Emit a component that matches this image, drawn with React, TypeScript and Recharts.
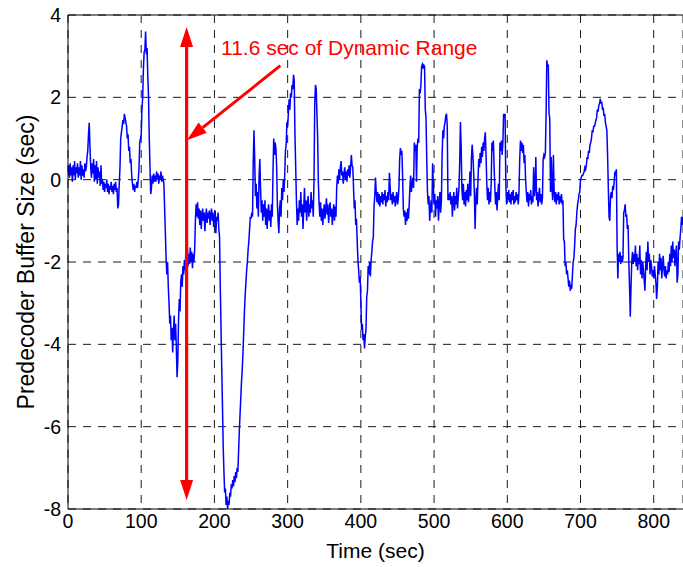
import { LineChart, Line, XAxis, YAxis, CartesianGrid, ReferenceLine, ReferenceDot } from 'recharts';

// buffer size (sec), sampled once a second, one array per 100 s block
const block0 = [
    0.1, 0.35, 0.05, 0.4, 0.1, 0.3, -0.05, 0.35, 0.1, 0.45,
    0.0, 0.3, 0.15, 0.4, 0.05, 0.3, 0.1, 0.45, 0.0, 0.35,
    0.1, 0.25, 0.05, 0.4, 0.2, 0.3, 0.55, 0.7, 1.1, 1.38,
    0.8, 0.3, 0.05, 0.4, 0.15, 0.5, -0.05, 0.35, 0.0, 0.45,
    -0.1, 0.3, 0.05, 0.2, -0.15, 0.35, -0.1, 0.0, -0.25, -0.05,
    -0.3, -0.1, -0.2, 0.0, -0.3, -0.1, -0.35, -0.15, -0.25, -0.05,
    -0.3, -0.15, -0.35, -0.1, -0.25, -0.05, -0.3, -0.2, -0.7, -0.6,
    -0.1, 0.3, 1.0, 1.15, 1.3, 1.45, 1.35, 1.6, 1.5, 1.4,
    1.3, 1.0, 1.1, 0.7, 0.8, 0.4, 0.5, 0.1, -0.1, -0.25,
    -0.1, -0.3, -0.15, -0.2, -0.05, -0.2, 0.0, 0.3, 0.9, 1.0,
];
const block1 = [
    1.1, 1.7, 2.0, 2.7, 3.1, 3.15, 3.6, 3.05, 3.2, 2.5,
    2.0, 1.0, 0.3, -0.35, -0.2, 0.1, -0.1, 0.15, -0.05, 0.1,
    -0.05, 0.2, 0.0, 0.15, -0.1, 0.1, 0.0, 0.2, -0.05, 0.1,
    0.0, -0.1, -0.7, -1.3, -1.9, -2.3, -2.0, -2.6, -3.0, -3.5,
    -3.3, -3.9, -3.6, -4.2, -3.7, -3.3, -3.9, -3.5, -4.1, -4.8,
    -4.4, -3.4, -2.9, -3.2, -2.5, -2.3, -2.6, -2.1, -2.3, -1.95,
    -2.2, -1.7, -2.0, -1.6, -2.1, -1.8, -2.05, -1.65, -2.0, -1.75,
    -2.15, -1.8, -2.0, -1.7, -1.0, -0.6, -0.9, -0.55, -0.95, -0.7,
    -1.1, -0.75, -1.2, -0.85, -0.7, -1.0, -0.8, -1.25, -0.9, -0.7,
    -1.05, -0.8, -0.95, -0.75, -1.1, -0.85, -0.7, -1.0, -0.8, -1.15,
];
const block2 = [
    -0.9, -0.75, -1.3, -0.9, -1.0, -0.8, -1.2, -1.4, -2.6, -3.6,
    -4.6, -5.5, -6.5, -7.1, -7.6, -7.5, -7.9, -7.7, -8.0, -7.8,
    -7.9, -7.6, -7.7, -7.4, -7.5, -7.3, -7.45, -7.2, -7.35, -7.1,
    -7.25, -7.0, -7.1, -6.6, -6.1, -5.7, -5.3, -4.9, -4.6, -4.2,
    -3.7, -3.2, -2.8, -2.5, -2.2, -2.0, -1.7, -1.5, -1.2, -0.9,
    -0.95, -0.8, -0.9, 0.4, 1.2, 0.5, -0.4, -0.1, -0.7, -0.3,
    -0.9, 0.1, 0.5, -0.2, -0.8, -0.5, -1.0, -0.6, -0.9, -0.5,
    -1.1, -0.7, -1.2, -0.8, -0.6, -1.0, -0.75, -1.15, -0.6, -0.9,
    0.2, 1.0, 0.6, 0.9, 0.75, 0.3, -0.6, -1.0, -1.3, -0.7,
    -0.5, -0.9, -0.2, -0.5, 0.0, -0.3, 0.1, 0.7, 0.85, 1.4,
];
const block3 = [
    1.3, 1.6, 1.95, 1.7, 2.1, 2.0, 2.3, 2.2, 2.55, 2.4,
    1.1, 0.3, -0.5, -1.1, -0.7, -1.0, -0.5, -0.8, -0.3, -0.9,
    -0.6, -1.2, -0.7, -0.2, -0.8, -0.5, -1.0, -0.6, -0.4, -0.9,
    -0.6, -0.8, -0.3, -0.7, -0.5, -0.9, 0.0, 1.8, 2.3, 2.2,
    1.6, 1.0, -0.1, -0.6, -0.9, -0.55, -1.0, -0.7, -1.1, -0.8,
    -0.6, -0.95, -0.7, -0.45, -0.85, -0.6, -1.05, -0.75, -0.55, -0.9,
    -0.7, -1.1, -0.8, -0.6, -1.0, -0.65, -0.9, -0.2, 0.1, -0.1,
    0.25, 0.0, 0.3, 0.45, 0.1, 0.2, -0.1, 0.15, 0.3, 0.0,
    0.2, -0.05, 0.25, 0.1, 0.35, 0.05, 0.3, 0.6, 0.35, 0.3,
    -0.2, -0.7, -0.5, -1.1, -0.95, -1.5, -1.95, -2.2, -2.5, -2.35,
];
const block4 = [
    -2.95, -3.65, -3.5, -3.9, -3.75, -4.1, -3.8, -3.65, -2.85, -2.7,
    -2.1, -2.3, -2.0, -2.35, -1.95, -1.75, -1.5, -1.4, -0.65, -0.4,
    0.05, -0.3, -0.55, -0.3, -0.6, -0.35, -0.65, -0.4, -0.55, -0.3,
    -0.6, -0.35, -0.5, -0.25, -0.65, -0.4, -0.55, -0.3, -0.5, 0.17,
    -0.2, -0.5, -0.35, -0.6, -0.3, -0.55, -0.4, -0.65, -0.45, -0.3,
    -0.6, -0.5, -0.2, 0.5, 0.77, 0.6, 0.7, 0.1, -0.7, -0.9,
    -0.75, -1.1, -0.8, -1.0, -0.7, -0.95, -0.6, -0.2, 0.1, -0.3,
    -0.1, 0.05, -0.2, 0.9, 0.7, 0.85, -0.05, 0.8, 1.0, 0.9,
    2.2, 2.1, 2.3, 2.75, 2.8, 2.7, 2.78, 2.75, 1.7, 1.5,
    0.5, -0.3, -0.6, -0.4, -1.0, -0.7, -0.5, -0.8, 0.4, -0.1,
];
const block5 = [
    -0.6, -0.35, -0.9, -0.5, -0.7, -0.4, -1.0, -0.6, -0.3, -0.8,
    -0.5, 0.6, 1.2, 1.0, 1.3, 1.4, 1.55, 1.6, 1.3, -0.5,
    -0.35, -0.5, -0.3, -0.6, -0.4, -0.9, -0.5, -0.3, -0.75, -0.4,
    -0.6, -0.2, -0.7, -0.45, -0.2, 0.4, 1.4, 0.8, -0.2, -0.5,
    -0.1, -0.6, -0.3, -0.65, -0.25, -0.5, -0.1, -0.55, -0.3, 0.2,
    -0.4, 0.5, 0.85, 0.6, 0.2, -0.3, -1.2, -0.5, -0.2, -0.6,
    0.0, 0.5, 0.3, 0.65, 0.4, 0.8, 0.55, 0.9, 0.7, 1.0,
    1.15, 0.6, -0.1, -0.5, -0.2, -0.6, -0.3, -0.55, -0.1, 0.9,
    0.7, 0.95, 0.3, -0.2, -0.6, -0.3, -0.75, -0.4, -0.1, -0.5,
    0.9, 0.7, 0.95, 0.6, 0.9, 1.6, 1.5, 1.6, -0.1, -0.6,
];
const block6 = [
    -0.3, -0.5, -0.25, -0.55, -0.35, -0.6, -0.3, -0.5, -0.25, -0.6,
    -0.4, -0.55, -0.3, -0.5, -0.35, -0.6, -0.3, 0.5, 0.95, 0.7,
    0.9, 0.65, 0.85, 0.4, 0.6, 0.0, -0.3, -0.55, -0.3, -0.65,
    -0.35, -0.5, -0.25, -0.6, -0.4, -0.55, 0.3, -0.4, -0.2, 0.55,
    -0.5, -0.3, -0.65, -0.4, -0.2, -0.55, -0.35, -0.6, -0.45, 0.5,
    0.6, 0.55, 0.65, 1.6, 2.9, 2.75, 2.8, 1.6, 1.5, -0.3,
    0.55, -0.2, -0.5, 0.6, -0.3, -0.55, -0.3, -0.6, -0.35, -0.5,
    -0.3, -0.6, -0.4, -0.55, -0.35, -0.6, -0.5, -1.45, -1.5, -2.1,
    -2.0, -2.3, -2.2, -2.4, -2.6, -2.45, -2.7, -2.55, -2.65, -2.3,
    -2.0, -1.9, -1.6, -1.2, -1.1, -0.8, -0.6, -0.5, -0.35, -0.3,
];
const block7 = [
    0.0, 0.05, 0.1, 0.1, 0.15, 0.2, 0.3, 0.25, 0.35, 0.55,
    0.5, 0.7, 0.65, 0.85, 0.9, 1.0, 1.2, 1.15, 1.3, 1.3,
    1.35, 1.45, 1.5, 1.7, 1.65, 1.8, 1.85, 1.96, 1.85, 1.9,
    1.7, 1.75, 1.55, 1.6, 1.4, 1.3, 1.2, 0.6, -0.2, -0.9,
    -1.0, -0.4, -0.3, -0.45, -0.15, -0.25, -0.05, 0.2, 0.15, 0.25,
    -1.6, -2.4, -1.8, -2.0, -1.75, -2.05, -1.85, -2.0, -1.9, -0.8,
    -0.75, -0.6, -0.9, -0.85, -1.2, -1.1, -2.0, -2.6, -3.33, -2.6,
    -2.0, -1.75, -2.05, -1.8, -2.0, -1.6, -2.1, -1.8, -2.2, -1.9,
    -2.05, -1.6, -2.3, -1.95, -2.4, -2.0, -2.2, -2.45, -2.7, -2.1,
    -1.75, -2.2, -1.5, -2.0, -1.8, -2.3, -1.95, -2.1, -2.35, -2.2,
];
const block8 = [
    -2.4, -2.1, -2.3, -2.5, -2.9, -2.6, -2.0, -2.3, -1.8, -2.2,
    -1.9, -2.4, -2.1, -1.85, -2.2, -2.35, -2.1, -2.4, -2.2, -2.3,
    -2.0, -2.25, -1.8, -2.1, -1.6, -2.0, -1.5, -1.9, -1.7, -2.1,
    -1.8, -1.6, -2.5, -2.3, -1.5, -1.7, -1.4, -1.2, -0.9, -1.1,
    -0.9,
];

const blocks = [block0, block1, block2, block3, block4, block5, block6, block7, block8];
const blockStarts = [0, 100, 200, 300, 400, 500, 600, 700, 800];

const xTicks = [0, 100, 200, 300, 400, 500, 600, 700, 800];
const yTicks = [-8, -6, -4, -2, 0, 2, 4];

// red annotation (data coordinates)
const rangeTime = 162;
const rangeTop = 3.71;
const rangeBottom = -7.78;
const pointerFrom = { t: 290, v: 2.77 };
const pointerTo = { t: 162.5, v: 0.96 };
const noteAt = { t: 209, v: 3.03 };
const noteText = '11.6 sec of Dynamic Range';

const data = blocks.flatMap((vals, b) =>
    vals.map((v, i) => ({ t: blockStarts[b] + i, v }))
);

const FONT = '"Liberation Sans", Arial, Helvetica, sans-serif';
const RED = '#ff0000';

function head(tipX: number, tipY: number, fromX: number, fromY: number) {
    const dx = tipX - fromX;
    const dy = tipY - fromY;
    const len = Math.hypot(dx, dy) || 1;
    const ux = dx / len;
    const uy = dy / len;
    const L = 20;
    const W = 6.5;
    const bx = tipX - ux * L;
    const by = tipY - uy * L;
    return {
        base: [bx, by],
        points: `${tipX},${tipY} ${bx - uy * W},${by + ux * W} ${bx + uy * W},${by - ux * W}`,
    };
}

function DoubleArrow(props: any) {
    const { x1, y1, x2, y2 } = props;
    const a = head(x1, y1, x2, y2);
    const b = head(x2, y2, x1, y1);
    return (
        <g>
            <line x1={a.base[0]} y1={a.base[1] - 1} x2={b.base[0]} y2={b.base[1] + 1} stroke={RED} strokeWidth={3.2} />
            <polygon points={a.points} fill={RED} />
            <polygon points={b.points} fill={RED} />
        </g>
    );
}

function Pointer(props: any) {
    const { x1, y1, x2, y2 } = props;
    const h = head(x2, y2, x1, y1);
    return (
        <g>
            <line x1={x1} y1={y1} x2={h.base[0]} y2={h.base[1]} stroke={RED} strokeWidth={3} />
            <polygon points={h.points} fill={RED} />
        </g>
    );
}

export default function App() {
    return (
        <div style={{ position: 'absolute', left: 0, top: 0, background: '#fff' }}>
            <LineChart
                width={683}
                height={567}
                data={data}
                margin={{ top: 15, right: 0, bottom: 0, left: 0 }}
            >
                <CartesianGrid stroke="#1a1a1a" strokeDasharray="8 7" />
                <XAxis
                    dataKey="t"
                    type="number"
                    domain={[0, 840]}
                    ticks={xTicks}
                    interval={0}
                    allowDataOverflow
                    height={58}
                    tickLine={false}
                    tickSize={0}
                    tickMargin={5}
                    axisLine={{ stroke: '#000' }}
                    tick={{ fill: '#000', fontSize: 19.5, fontFamily: FONT }}
                    label={(p: any) => {
                        const vb = p.viewBox;
                        return (
                            <text x={vb.x + vb.width / 2} y={vb.y + 49} textAnchor="middle"
                                fontSize={21} fontFamily={FONT} fill="#000">
                                Time (sec)
                            </text>
                        );
                    }}
                />
                <YAxis
                    type="number"
                    domain={[-8, 4]}
                    ticks={yTicks}
                    interval={0}
                    allowDataOverflow
                    width={68}
                    tickLine={false}
                    tickSize={0}
                    tickMargin={7}
                    axisLine={{ stroke: '#000' }}
                    tick={{ fill: '#000', fontSize: 19.5, fontFamily: FONT }}
                    label={(p: any) => {
                        const vb = p.viewBox;
                        const cx = vb.x + 26;
                        const cy = vb.y + vb.height / 2;
                        return (
                            <text x={cx} y={cy} transform={`rotate(-90 ${cx} ${cy})`} textAnchor="middle"
                                dominantBaseline="central" fontSize={23} fontFamily={FONT} fill="#000">
                                Predecoder Buffer Size (sec)
                            </text>
                        );
                    }}
                />
                {/* top frame */}
                <ReferenceLine y={4} stroke="#000" strokeWidth={1} />
                <Line
                    type="linear"
                    dataKey="v"
                    stroke="#0000ff"
                    strokeWidth={1.5}
                    dot={false}
                    isAnimationActive={false}
                />
                <ReferenceLine
                    segment={[{ x: rangeTime, y: rangeTop }, { x: rangeTime, y: rangeBottom }]}
                    shape={(p: any) => <DoubleArrow {...p} />}
                />
                <ReferenceLine
                    segment={[{ x: pointerFrom.t, y: pointerFrom.v }, { x: pointerTo.t, y: pointerTo.v }]}
                    shape={(p: any) => <Pointer {...p} />}
                />
                <ReferenceDot
                    x={noteAt.t}
                    y={noteAt.v}
                    r={0}
                    shape={(p: any) => (
                        <text x={p.cx} y={p.cy} fill={RED} fontSize={21} fontFamily={FONT}>
                            {noteText}
                        </text>
                    )}
                />
            </LineChart>
        </div>
    );
}
